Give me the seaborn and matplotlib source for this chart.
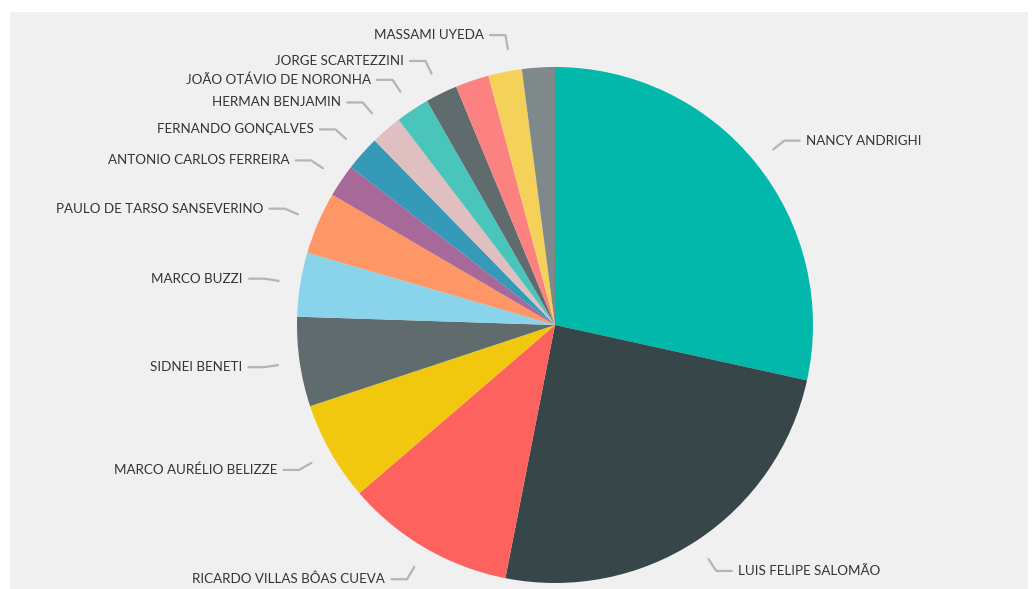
import numpy as np
import matplotlib
matplotlib.use("Agg")
import matplotlib.pyplot as plt
import seaborn as sns
from matplotlib.patches import Rectangle

# ---- data (share of cases, %) ----
names = [
    "NANCY ANDRIGHI", "LUIS FELIPE SALOMÃO", "RICARDO VILLAS BÔAS CUEVA",
    "MARCO AURÉLIO BELIZZE", "SIDNEI BENETI", "MARCO BUZZI",
    "PAULO DE TARSO SANSEVERINO", "ANTONIO CARLOS FERREIRA", "FERNANDO GONÇALVES",
    "HERMAN BENJAMIN", "JOÃO OTÁVIO DE NORONHA", "JORGE SCARTEZZINI",
    "", "", "MASSAMI UYEDA",
]
values = [28.4, 24.6, 10.6, 6.2, 5.6, 4.0, 3.9, 2.05, 2.2, 1.95, 2.1, 2.0, 2.1, 2.1, 2.05]
colors = ["#01B8AA", "#374649", "#FD625E", "#F2C80F", "#5F6B6D", "#8AD4EB",
          "#FE9666", "#A66999", "#3599B8", "#DFBFBF", "#4AC5BB", "#5F6B6D",
          "#FB8281", "#F4D25A", "#7F898A"]

sns.set_theme(style="white")
plt.rcParams['font.family'] = ['Lato', 'DejaVu Sans']

W, H = 1034, 589
fig = plt.figure(figsize=(W / 100, H / 100), dpi=100)
fig.patch.set_facecolor("white")
fig.add_artist(Rectangle((10 / W, 0), (W - 16) / W, (H - 12) / H,
                         transform=fig.transFigure, facecolor="#F0F0F0",
                         edgecolor="none", zorder=0))

ax = fig.add_axes([0, 0, 1, 1])
ax.set_facecolor("none")
R = 258.0
cx, cy = 555.0, 325.0

wedges, _ = ax.pie(values, colors=colors, startangle=90, counterclock=False,
                   radius=1.0, center=(0, 0), frame=True,
                   wedgeprops=dict(edgecolor="none"))
ax.set_xlim(-cx / R, (W - cx) / R)
ax.set_ylim(-(H - cy) / R, cy / R)
ax.axis("off")

line_col = "#B4B4B4"
for w, name in zip(wedges, names):
    if not name:
        continue
    mid = ((w.theta1 + w.theta2) / 2.0) % 360.0
    # keep top-left labels away from the vertical
    if 90 < mid < 99.7:
        mid = 99.7
    a = np.deg2rad(mid)
    r0, r1 = 1.085, 1.14
    x0, y0 = r0 * np.cos(a), r0 * np.sin(a)
    x1, y1 = r1 * np.cos(a), r1 * np.sin(a)
    side = 1 if np.cos(a) >= 0 else -1
    x2 = x1 + side * 0.06
    ax.plot([x0, x1, x2], [y0, y1, y1], color=line_col, lw=1.6,
            solid_capstyle="round", solid_joinstyle="round")
    ax.text(x2 + side * 0.025, y1, name, ha="left" if side > 0 else "right",
            va="center", fontsize=9.6, color="#333333")

fig.savefig("out.png", dpi=100, facecolor=fig.get_facecolor())
